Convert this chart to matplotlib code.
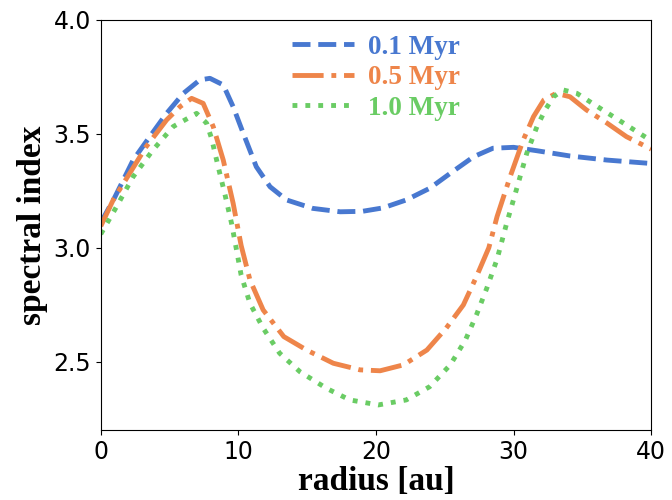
import numpy as np
import matplotlib
matplotlib.use('Agg')
import matplotlib.pyplot as plt

# 读图得到的数据 (radius [au], spectral index)
r_01 = [0, 1.0, 2.35, 3.56, 4.78, 6.0, 7.2, 7.93, 8.9, 9.62, 10.35, 11.3, 12.3, 13.5, 15.4,
        17.4, 19.0, 20.5, 22.2, 23.9, 25.4, 27.1, 28.5, 30.0, 31.7, 34.1, 36.8, 40]
s_01 = [3.11, 3.22, 3.385, 3.488, 3.59, 3.678, 3.737, 3.744, 3.715, 3.619, 3.503, 3.356, 3.268, 3.21, 3.173,
        3.158, 3.16, 3.175, 3.21, 3.261, 3.327, 3.40, 3.437, 3.441, 3.426, 3.403, 3.385, 3.37]

r_05 = [0, 0.9, 2.1, 3.3, 4.78, 5.75, 6.6, 7.44, 8.17, 8.9, 9.62, 10.2, 10.84, 11.8, 13.3, 14.96,
        16.9, 18.84, 20.3, 22.0, 23.7, 25.1, 26.35, 27.3, 28.2, 28.8, 29.75, 30.7, 31.45, 32.2,
        33.1, 34.1, 35.3, 36.8, 38.2, 40]
s_05 = [3.095, 3.21, 3.327, 3.444, 3.561, 3.619, 3.656, 3.634, 3.532, 3.385, 3.195, 3.01, 2.859, 2.727, 2.61, 2.551,
        2.493, 2.464, 2.46, 2.486, 2.551, 2.647, 2.749, 2.873, 3.00, 3.137, 3.312, 3.473, 3.576, 3.649,
        3.678, 3.663, 3.605, 3.547, 3.488, 3.433]

r_10 = [0, 1.14, 2.35, 3.8, 5.26, 6.96, 7.69, 8.05, 8.53, 9.0, 9.5, 9.85, 10.2, 10.84, 11.8, 13.0,
        14.47, 16.4, 18.1, 20.17, 22.2, 23.9, 25.4, 26.5, 27.3, 28.05, 28.8, 29.5, 30.2, 30.96,
        31.7, 32.3, 32.9, 33.6, 34.6, 36.3, 38.0, 40]
s_10 = [3.06, 3.18, 3.312, 3.43, 3.532, 3.59, 3.547, 3.48, 3.356, 3.24, 3.108, 2.995, 2.88, 2.756, 2.647, 2.537,
        2.456, 2.383, 2.332, 2.31, 2.332, 2.39, 2.486, 2.595, 2.705, 2.822, 2.95, 3.108, 3.254, 3.415,
        3.532, 3.605, 3.663, 3.693, 3.678, 3.612, 3.547, 3.47]

labels = ['0.1 Myr', '0.5 Myr', '1.0 Myr']
colors = ['#4878d0', '#ee854a', '#6acc64']

fig = plt.figure(figsize=(6.72, 5.0), dpi=100)
ax = fig.add_axes([0.150, 0.14, 0.819, 0.82])

ax.plot(r_01, s_01, '--', color=colors[0], lw=3.5, label=labels[0])
ax.plot(r_05, s_05, '-.', color=colors[1], lw=3.5, label=labels[1])
ax.plot(r_10, s_10, ':', color=colors[2], lw=3.5, label=labels[2])

ax.set_xlim(0, 40)
ax.set_ylim(2.2, 4.0)
ax.set_xticks([0, 10, 20, 30, 40])
ax.set_yticks([2.5, 3.0, 3.5, 4.0])
ax.tick_params(labelsize=17)

serif = {'family': 'Liberation Serif', 'weight': 'bold', 'size': 24}
ax.set_xlabel('radius [au]', fontdict=serif, labelpad=1.5)
ax.set_ylabel('spectral index', fontdict=serif, labelpad=4)

# 图例: 无边框, 文字颜色与线条一致
leg = ax.legend(loc='upper center', frameon=False, handlelength=2.3, handletextpad=0.5,
                labelspacing=0.2, borderaxespad=0.15,
                prop={'family': 'Liberation Serif', 'weight': 'bold', 'size': 19.5},
                labelcolor='linecolor')

fig.savefig('out.png', dpi=100)
